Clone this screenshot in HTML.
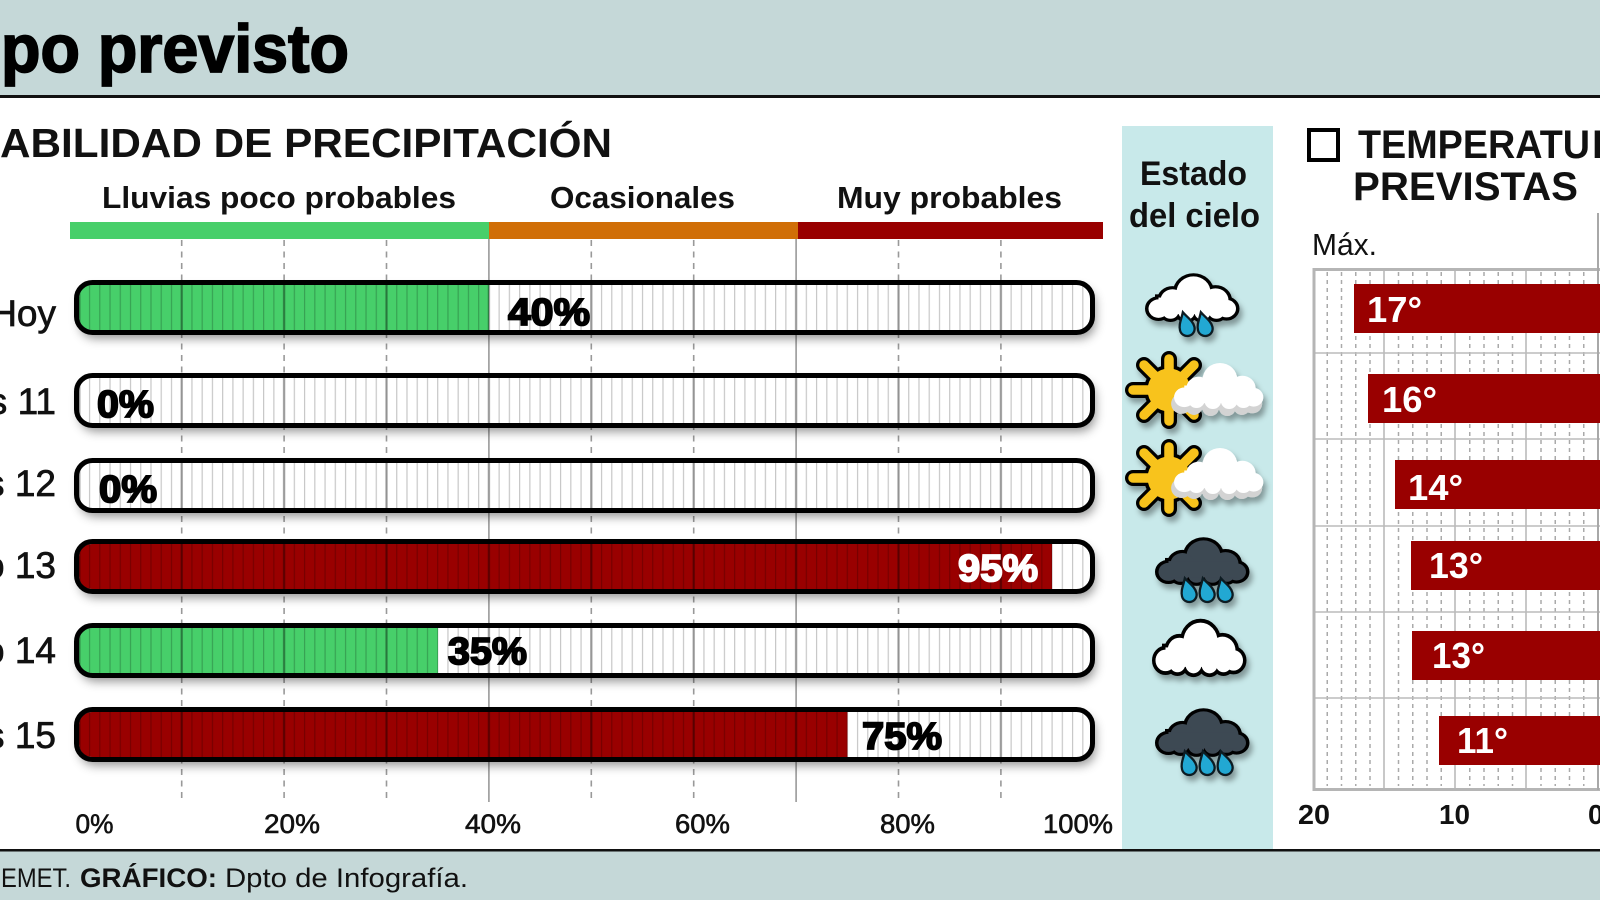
<!DOCTYPE html>
<html><head><meta charset="utf-8"><style>
html,body{margin:0;padding:0;background:#fff;width:1600px;height:900px;overflow:hidden}
svg{display:block}
text{font-family:"Liberation Sans",Arial,sans-serif}
</style></head><body>
<svg width="1600" height="900" viewBox="0 0 1600 900" xmlns="http://www.w3.org/2000/svg">
<defs>
 <filter id="sh" x="-5%" y="-50%" width="110%" height="220%"><feDropShadow dx="3" dy="6" stdDeviation="5" flood-color="#000" flood-opacity="0.42"/></filter>
 <filter id="ish" x="-30%" y="-30%" width="170%" height="170%"><feDropShadow dx="3" dy="5" stdDeviation="3" flood-color="#000" flood-opacity="0.35"/></filter>
 <pattern id="h1" x="78.7" y="0" width="10.24" height="20" patternUnits="userSpaceOnUse"><rect x="0" y="0" width="1.2" height="20" fill="#000" fill-opacity="0.22"/></pattern>
 <pattern id="h10" x="78.05" y="0" width="102.4" height="20" patternUnits="userSpaceOnUse"><rect x="0" y="0" width="2.5" height="20" fill="#000" fill-opacity="0.28"/></pattern>
 <clipPath id="c1"><rect x="79" y="285" width="1014" height="45" rx="13"/></clipPath>
 <clipPath id="c2"><rect x="79" y="378" width="1014" height="45" rx="13"/></clipPath>
 <clipPath id="c3"><rect x="79" y="463" width="1014" height="45" rx="13"/></clipPath>
 <clipPath id="c4"><rect x="79" y="544" width="1014" height="45" rx="13"/></clipPath>
 <clipPath id="c5"><rect x="79" y="628" width="1014" height="45" rx="13"/></clipPath>
 <clipPath id="c6"><rect x="79" y="712" width="1014" height="45" rx="13"/></clipPath>
 <g id="cl">
  <circle cx="48" cy="18" r="17"/>
  <circle cx="27" cy="27" r="12"/>
  <circle cx="13" cy="36" r="10"/>
  <circle cx="70" cy="27" r="13"/>
  <circle cx="81" cy="36" r="9.5"/>
  <circle cx="25" cy="39" r="8"/>
  <circle cx="41" cy="40" r="8"/>
  <circle cx="57" cy="40" r="8"/>
  <circle cx="71" cy="39" r="8"/>
  <rect x="13" y="24" width="68" height="18"/>
 </g>
 <path id="drop" d="M0 -9 C2.5 -4 5.5 -1 5.5 3.5 A5.5 5.5 0 0 1 -5.5 3.5 C-5.5 -1 -2.5 -4 0 -9Z"/>
 <g id="sun">
  <g stroke="#000" stroke-width="16" stroke-linecap="round">
   <line x1="0" y1="0" x2="0" y2="-31"/><line x1="0" y1="0" x2="0" y2="31"/>
   <line x1="0" y1="0" x2="-36" y2="0"/><line x1="0" y1="0" x2="36" y2="0"/>
   <line x1="0" y1="0" x2="-25" y2="-25"/><line x1="0" y1="0" x2="25" y2="-25"/>
   <line x1="0" y1="0" x2="-25" y2="25"/><line x1="0" y1="0" x2="25" y2="25"/>
  </g>
  <circle r="25" fill="#000"/>
  <g stroke="#f8c31b" stroke-width="9.5" stroke-linecap="round">
   <line x1="0" y1="0" x2="0" y2="-31"/><line x1="0" y1="0" x2="0" y2="31"/>
   <line x1="0" y1="0" x2="-36" y2="0"/><line x1="0" y1="0" x2="36" y2="0"/>
   <line x1="0" y1="0" x2="-25" y2="-25"/><line x1="0" y1="0" x2="25" y2="-25"/>
   <line x1="0" y1="0" x2="-25" y2="25"/><line x1="0" y1="0" x2="25" y2="25"/>
  </g>
  <circle r="21.5" fill="#f8c31b"/>
 </g>
</defs>

<!-- header -->
<rect x="0" y="0" width="1600" height="96" fill="#c5d8d8"/>
<rect x="0" y="95" width="1600" height="3" fill="#111"/>
<text x="1" y="72" font-size="68" font-weight="bold" textLength="348" lengthAdjust="spacingAndGlyphs" fill="#000" stroke="#000" stroke-width="1.8">po previsto</text>

<!-- footer -->
<rect x="0" y="849" width="1600" height="2.5" fill="#111"/>
<rect x="0" y="851.5" width="1600" height="49" fill="#c5d8d8"/>
<text y="887" font-size="27" fill="#111"><tspan x="1" textLength="70" lengthAdjust="spacingAndGlyphs">EMET.</tspan><tspan x="80" font-weight="bold" textLength="137" lengthAdjust="spacingAndGlyphs">GRÁFICO:</tspan><tspan x="225" textLength="243" lengthAdjust="spacingAndGlyphs">Dpto de Infografía.</tspan></text>

<!-- precip heading -->
<text x="0" y="157" font-size="40.5" font-weight="bold" textLength="612" lengthAdjust="spacingAndGlyphs" fill="#111">ABILIDAD DE PRECIPITACIÓN</text>
<g font-size="31" font-weight="bold" fill="#111">
 <text x="102" y="208" textLength="354" lengthAdjust="spacingAndGlyphs">Lluvias poco probables</text>
 <text x="550" y="208" textLength="185" lengthAdjust="spacingAndGlyphs">Ocasionales</text>
 <text x="837" y="208" textLength="225" lengthAdjust="spacingAndGlyphs">Muy probables</text>
</g>
<rect x="70" y="222" width="419" height="17" fill="#47cf6a"/>
<rect x="489" y="222" width="309" height="17" fill="#d06e07"/>
<rect x="798" y="222" width="305" height="17" fill="#990000"/>

<!-- gridlines -->
<g stroke="#999" stroke-width="1.6">
 <g stroke-dasharray="6 5.5">
  <line x1="181.7" y1="240" x2="181.7" y2="802"/>
  <line x1="284.1" y1="240" x2="284.1" y2="802"/>
  <line x1="386.5" y1="240" x2="386.5" y2="802"/>
  <line x1="591.3" y1="240" x2="591.3" y2="802"/>
  <line x1="693.7" y1="240" x2="693.7" y2="802"/>
  <line x1="898.5" y1="240" x2="898.5" y2="802"/>
  <line x1="1000.9" y1="240" x2="1000.9" y2="802"/>
 </g>
 <line x1="488.9" y1="239" x2="488.9" y2="802"/>
 <line x1="796.1" y1="239" x2="796.1" y2="802"/>
</g>

<!-- bars -->
<g>
 <rect x="76.5" y="282.5" width="1016" height="50" rx="16" fill="#fff" filter="url(#sh)"/>
 <rect x="76.5" y="375.5" width="1016" height="50" rx="16" fill="#fff" filter="url(#sh)"/>
 <rect x="76.5" y="460.5" width="1016" height="50" rx="16" fill="#fff" filter="url(#sh)"/>
 <rect x="76.5" y="541.5" width="1016" height="50" rx="16" fill="#fff" filter="url(#sh)"/>
 <rect x="76.5" y="625.5" width="1016" height="50" rx="16" fill="#fff" filter="url(#sh)"/>
 <rect x="76.5" y="709.5" width="1016" height="50" rx="16" fill="#fff" filter="url(#sh)"/>
</g>
<g clip-path="url(#c1)"><rect x="79" y="285" width="410" height="45" fill="#47cf6a"/><rect x="79" y="285" width="1014" height="45" fill="url(#h1)"/><rect x="79" y="285" width="1014" height="45" fill="url(#h10)"/></g>
<g clip-path="url(#c2)"><rect x="79" y="378" width="1014" height="45" fill="url(#h1)"/><rect x="79" y="378" width="1014" height="45" fill="url(#h10)"/></g>
<g clip-path="url(#c3)"><rect x="79" y="463" width="1014" height="45" fill="url(#h1)"/><rect x="79" y="463" width="1014" height="45" fill="url(#h10)"/></g>
<g clip-path="url(#c4)"><rect x="79" y="544" width="973" height="45" fill="#990000"/><rect x="79" y="544" width="1014" height="45" fill="url(#h1)"/><rect x="79" y="544" width="1014" height="45" fill="url(#h10)"/></g>
<g clip-path="url(#c5)"><rect x="79" y="628" width="359" height="45" fill="#47cf6a"/><rect x="79" y="628" width="1014" height="45" fill="url(#h1)"/><rect x="79" y="628" width="1014" height="45" fill="url(#h10)"/></g>
<g clip-path="url(#c6)"><rect x="79" y="712" width="768.5" height="45" fill="#990000"/><rect x="79" y="712" width="1014" height="45" fill="url(#h1)"/><rect x="79" y="712" width="1014" height="45" fill="url(#h10)"/></g>
<g fill="none" stroke="#000" stroke-width="5">
 <rect x="76.5" y="282.5" width="1016" height="50" rx="16"/>
 <rect x="76.5" y="375.5" width="1016" height="50" rx="16"/>
 <rect x="76.5" y="460.5" width="1016" height="50" rx="16"/>
 <rect x="76.5" y="541.5" width="1016" height="50" rx="16"/>
 <rect x="76.5" y="625.5" width="1016" height="50" rx="16"/>
 <rect x="76.5" y="709.5" width="1016" height="50" rx="16"/>
</g>

<!-- bar labels -->
<g font-size="38" font-weight="bold" stroke-width="1.8">
 <text x="508" y="325" textLength="82" lengthAdjust="spacingAndGlyphs" fill="#000" stroke="#000">40%</text>
 <text x="97" y="417" textLength="57" lengthAdjust="spacingAndGlyphs" fill="#000" stroke="#000">0%</text>
 <text x="99" y="502" textLength="58" lengthAdjust="spacingAndGlyphs" fill="#000" stroke="#000">0%</text>
 <text x="958" y="581" textLength="80" lengthAdjust="spacingAndGlyphs" fill="#fff" stroke="#fff">95%</text>
 <text x="448" y="664" textLength="79" lengthAdjust="spacingAndGlyphs" fill="#000" stroke="#000">35%</text>
 <text x="862" y="749" textLength="80" lengthAdjust="spacingAndGlyphs" fill="#000" stroke="#000">75%</text>
</g>

<!-- day labels -->
<g font-size="37" fill="#111" stroke="#111" stroke-width="0.7" text-anchor="end">
 <text x="56" y="326">Hoy</text>
 <text x="56" y="414">Jueves 11</text>
 <text x="56" y="496">Viernes 12</text>
 <text x="56" y="578">Sábado 13</text>
 <text x="56" y="663">Domingo 14</text>
 <text x="56" y="748">Lunes 15</text>
</g>

<!-- axis labels -->
<g font-size="27" fill="#111" stroke="#111" stroke-width="0.6">
 <text x="75.5" y="833" textLength="38" lengthAdjust="spacingAndGlyphs">0%</text>
 <text x="264" y="833" textLength="56" lengthAdjust="spacingAndGlyphs">20%</text>
 <text x="465" y="833" textLength="56" lengthAdjust="spacingAndGlyphs">40%</text>
 <text x="675" y="833" textLength="55" lengthAdjust="spacingAndGlyphs">60%</text>
 <text x="880" y="833" textLength="55" lengthAdjust="spacingAndGlyphs">80%</text>
 <text x="1043" y="833" textLength="70" lengthAdjust="spacingAndGlyphs">100%</text>
</g>

<!-- Estado del cielo panel -->
<rect x="1122" y="126" width="151" height="723" fill="#c8e9ea"/>
<g font-size="34" font-weight="bold" fill="#111">
 <text x="1140" y="185" textLength="107" lengthAdjust="spacingAndGlyphs">Estado</text>
 <text x="1129" y="227" textLength="131" lengthAdjust="spacingAndGlyphs">del cielo</text>
</g>

<!-- icon 1: cloud with 2 drops -->
<g filter="url(#ish)">
 <g transform="translate(1145.5,275.5) scale(1,0.92)">
  <use href="#cl" fill="#000" stroke="#000" stroke-width="7"/>
  <use href="#cl" fill="#fff"/>
 </g>
 <g fill="#22a8d3" stroke="#0b1a22" stroke-width="1.7">
  <use href="#drop" transform="translate(1186,324) rotate(-15) scale(1.35)"/>
  <use href="#drop" transform="translate(1204,324) rotate(-15) scale(1.35)"/>
 </g>
</g>

<!-- icon 2: sun + cloud -->
<g filter="url(#ish)">
 <use href="#sun" transform="translate(1169,390)"/>
 <use href="#cl" fill="#d3d3d3" transform="translate(1168,367) scale(1.04,1.02)"/>
 <use href="#cl" fill="#fff" transform="translate(1171,362) scale(1.02,0.98)"/>
</g>

<!-- icon 3: sun + cloud -->
<g filter="url(#ish)">
 <use href="#sun" transform="translate(1169,478)"/>
 <use href="#cl" fill="#d3d3d3" transform="translate(1168,452) scale(1.04,1.0)"/>
 <use href="#cl" fill="#fff" transform="translate(1171,447) scale(1.02,0.98)"/>
</g>

<!-- icon 4: dark cloud 3 drops -->
<g filter="url(#ish)">
 <g transform="translate(1155.5,539.5) scale(1,0.9)">
  <use href="#cl" fill="#000" stroke="#000" stroke-width="7"/>
  <use href="#cl" fill="#3e4853"/>
 </g>
 <g fill="#22a8d3" stroke="#0b1a22" stroke-width="1.7">
  <use href="#drop" transform="translate(1188,590) rotate(-15) scale(1.35)"/>
  <use href="#drop" transform="translate(1206,590) rotate(-15) scale(1.35)"/>
  <use href="#drop" transform="translate(1224,590) rotate(-15) scale(1.35)"/>
 </g>
</g>

<!-- icon 5: white cloud -->
<g filter="url(#ish)">
 <g transform="translate(1152.5,621.5) scale(1,1.08)">
  <use href="#cl" fill="#000" stroke="#000" stroke-width="7"/>
  <use href="#cl" fill="#fff"/>
 </g>
</g>

<!-- icon 6: dark cloud 3 drops -->
<g filter="url(#ish)">
 <g transform="translate(1155.5,710.5) scale(1,0.9)">
  <use href="#cl" fill="#000" stroke="#000" stroke-width="7"/>
  <use href="#cl" fill="#3e4853"/>
 </g>
 <g fill="#22a8d3" stroke="#0b1a22" stroke-width="1.7">
  <use href="#drop" transform="translate(1188,763) rotate(-15) scale(1.35)"/>
  <use href="#drop" transform="translate(1206,763) rotate(-15) scale(1.35)"/>
  <use href="#drop" transform="translate(1224,763) rotate(-15) scale(1.35)"/>
 </g>
</g>

<!-- Temperature section -->
<rect x="1309" y="130" width="29" height="30" fill="none" stroke="#000" stroke-width="4"/>
<g font-size="40" font-weight="bold" fill="#111">
 <text x="1358" y="158" textLength="232" lengthAdjust="spacingAndGlyphs">TEMPERATU</text>
 <text x="1592" y="158">RAS</text>
 <text x="1353" y="200" textLength="225" lengthAdjust="spacingAndGlyphs">PREVISTAS</text>
</g>
<text x="1312" y="255" font-size="31" fill="#111" textLength="65" lengthAdjust="spacingAndGlyphs">Máx.</text>

<!-- temp grid -->
<g stroke="#aaa" stroke-width="1.5" stroke-dasharray="4 4">
 <path d="M1327.25 272V786M1341.5 272V786M1355.75 272V786M1370 272V786M1398.5 272V786M1412.75 272V786M1427 272V786M1441.25 272V786M1469.75 272V786M1484 272V786M1498.25 272V786M1512.5 272V786M1541 272V786M1555.25 272V786M1569.5 272V786M1583.75 272V786"/>
</g>
<g stroke="#bbb" stroke-width="1.6" fill="none">
 <path d="M1384 268V788M1455 268V788M1526 268V788"/>
 <path d="M1313 353H1600M1313 439H1600M1313 526H1600M1313 612H1600M1313 698H1600"/>
</g>
<g stroke="#b5b5b5" stroke-width="3" fill="none">
 <path d="M1314 268V789.5H1600"/>
 <path d="M1314 269.5H1600"/>
</g>
<line x1="1598" y1="213" x2="1598" y2="790" stroke="#a8a8a8" stroke-width="2"/>

<!-- temp bars -->
<g fill="#990000">
 <rect x="1354" y="284" width="246" height="49"/>
 <rect x="1368" y="374" width="232" height="49"/>
 <rect x="1395" y="460" width="205" height="49"/>
 <rect x="1411" y="541" width="189" height="49"/>
 <rect x="1412" y="631" width="188" height="49"/>
 <rect x="1439" y="716" width="161" height="49"/>
</g>
<g font-size="36" font-weight="bold" fill="#fff">
 <text x="1367" y="322" textLength="55" lengthAdjust="spacingAndGlyphs">17°</text>
 <text x="1382" y="412" textLength="55" lengthAdjust="spacingAndGlyphs">16°</text>
 <text x="1408" y="500" textLength="55" lengthAdjust="spacingAndGlyphs">14°</text>
 <text x="1429" y="578" textLength="54" lengthAdjust="spacingAndGlyphs">13°</text>
 <text x="1432" y="668" textLength="53" lengthAdjust="spacingAndGlyphs">13°</text>
 <text x="1457" y="753" textLength="51" lengthAdjust="spacingAndGlyphs">11°</text>
</g>
<g font-size="28" font-weight="bold" fill="#111">
 <text x="1298" y="824" textLength="32" lengthAdjust="spacingAndGlyphs">20</text>
 <text x="1439" y="824" textLength="31" lengthAdjust="spacingAndGlyphs">10</text>
 <text x="1588" y="824">0</text>
</g>
</svg>
</body></html>
